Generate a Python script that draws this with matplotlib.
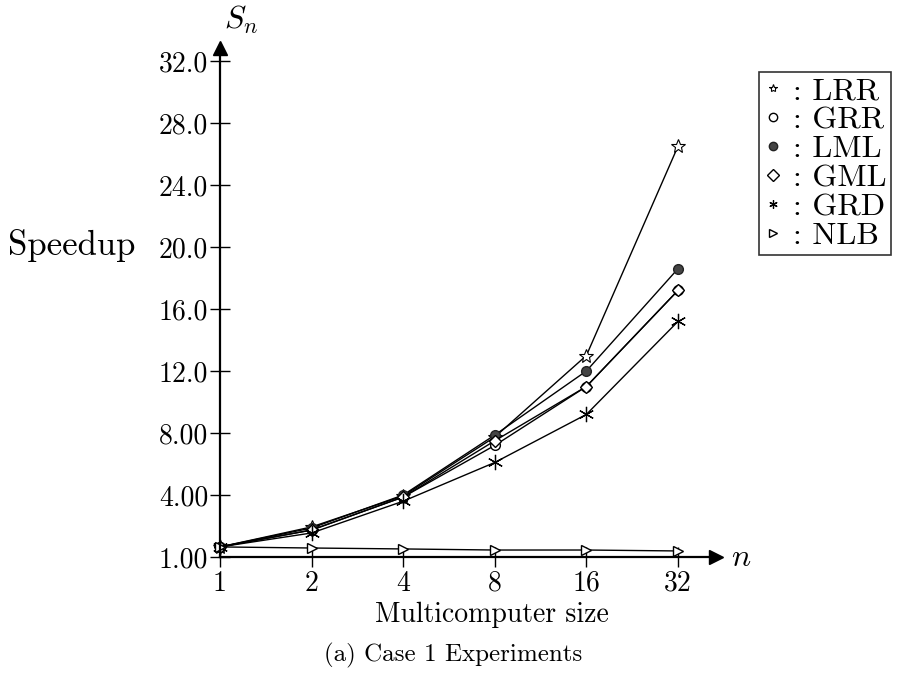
import numpy as np
import matplotlib
matplotlib.use("Agg")
import matplotlib.pyplot as plt

plt.rcParams['font.family'] = ['cmr10', 'DejaVu Serif']
plt.rcParams['mathtext.fontset'] = 'cm'
plt.rcParams['axes.formatter.use_mathtext'] = True

n = [1, 2, 4, 8, 16, 32]
lrr = [0.65, 1.94, 3.94, 7.74, 13.0, 26.5]
grr = [0.65, 1.74, 3.87, 7.2, 11.0, 17.2]
lml = [0.65, 1.87, 4.0, 7.87, 12.0, 18.6]
gml = [0.65, 1.74, 3.87, 7.5, 11.0, 17.2]
grd = [0.65, 1.55, 3.6, 6.1, 9.2, 15.2]
nlb = [0.65, 0.58, 0.52, 0.45, 0.45, 0.39]

yticks = [0, 4, 8, 12, 16, 20, 24, 28, 32]
ylabels = ["1.00", "4.00", "8.00", "12.0", "16.0", "20.0", "24.0", "28.0", "32.0"]

W, H = 897, 685
fig = plt.figure(figsize=(W / 100, H / 100), dpi=100)
ax = fig.add_axes([220 / W, 1 - 557 / H, (716 - 220) / W, (557 - 48) / H])

ax.set_xscale('log', base=2)
ax.set_xlim(1, 2 ** ((716 - 220) / 91.6))
ax.set_ylim(0, (557 - 48) / 15.5)

lw = 1.0
ax.plot(n, lrr, color='black', lw=lw, marker='*', ms=10, mfc='white', mec='black', mew=0.8, label=': LRR', clip_on=False)
ax.plot(n, grr, color='black', lw=lw, marker='o', ms=7, mfc='white', mec='black', label=': GRR', clip_on=False)
ax.plot(n, lml, color='black', lw=lw, marker='o', ms=7, mfc='#444444', mec='#222222', label=': LML', clip_on=False)
ax.plot(n, gml, color='black', lw=lw, marker='D', ms=6, mfc='white', mec='black', label=': GML', clip_on=False)
ax.plot(n, grd, color='black', lw=lw, marker=(6, 2, 0), ms=11, mec='black', mew=0.9, label=': GRD', clip_on=False)
ax.plot(n, nlb, color='black', lw=lw, marker='>', ms=7, mfc='white', mec='black', label=': NLB', clip_on=False)

for s in ['top', 'right']:
    ax.spines[s].set_visible(False)
ax.spines['left'].set_linewidth(1.6)
ax.spines['bottom'].set_linewidth(1.6)

# arrow heads
ax.plot(1, 0, marker='>', color='black', ms=10, transform=ax.transAxes, clip_on=False)
ax.plot(0, 1, marker='^', color='black', ms=10, transform=ax.transAxes, clip_on=False)

ax.set_xticks(n)
ax.set_xticklabels([str(v) for v in n])
ax.xaxis.set_minor_locator(matplotlib.ticker.NullLocator())
ax.set_yticks(yticks)
ax.set_yticklabels(ylabels)
ax.tick_params(direction='inout', length=15, width=1.0, labelsize=20, pad=1)
ax.tick_params(axis='x', pad=2)

fig.text(8 / W, 1 - 245 / H, "Speedup", fontsize=25, ha='left', va='center')
fig.text(241 / W, 1 - 20 / H, r"$S_n$", fontsize=23, ha='center', va='center')
fig.text(741 / W, 1 - 558 / H, r"$n$", fontsize=23, ha='center', va='center')
fig.text(492 / W, 1 - 615 / H, "Multicomputer size", fontsize=20, ha='center', va='center')
fig.text(453 / W, 1 - 655 / H, "(a) Case 1 Experiments", fontsize=18, ha='center', va='center')

leg = ax.legend(loc='upper left', bbox_to_anchor=(759 / W, 1 - 72 / H), bbox_transform=fig.transFigure,
                frameon=True, fancybox=False, edgecolor='black', fontsize=23,
                handlelength=0.6, handletextpad=0.3, labelspacing=0.02, borderpad=0.15,
                borderaxespad=0)
leg.get_frame().set_linewidth(1.2)
for h in leg.get_lines():
    h.set_linestyle('none')
    h.set_markersize(6)

fig.savefig("out.png", dpi=100)
